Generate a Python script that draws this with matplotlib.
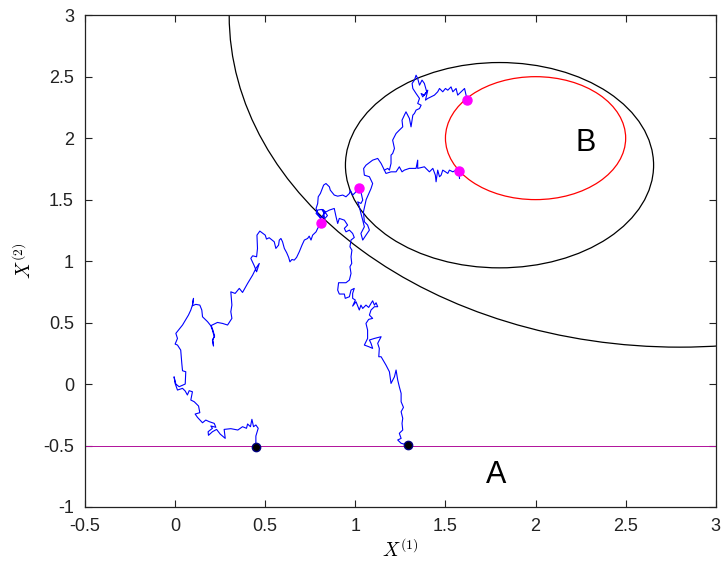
import numpy as np
import matplotlib
matplotlib.use('Agg')
import matplotlib.pyplot as plt
from matplotlib.patches import Ellipse

# ---- data ----
# level sets: (centre x, centre y, full width, full height)
big_level = (2.8, 3.0, 5.0, 5.4)
mid_level = (1.80, 1.78, 1.71, 1.67)
set_b = (2.0, 2.0, 1.0, 1.0)
level_a = -0.5

# walk from the left start up to the first level
walk1_x = [0.448, 0.448, 0.461, 0.448, 0.435, 0.426, 0.418, 0.402, 0.396, 0.374, 0.348, 0.309,
           0.272, 0.278, 0.25, 0.230, 0.207, 0.185, 0.183, 0.207, 0.198, 0.226, 0.217, 0.189,
           0.170, 0.152, 0.124, 0.111, 0.137, 0.130, 0.106, 0.087, 0.096, 0.078, 0.068, 0.056,
           0.041, 0.013, 0.000, -0.006, 0.004, 0.022, 0.056, 0.059, 0.041, 0.037, 0.031, 0.013,
           0.0, 0.013, 0.004, 0.041, 0.074, 0.087, 0.096, 0.102, 0.096, 0.115, 0.137, 0.148,
           0.152, 0.180, 0.198, 0.207, 0.217, 0.207, 0.213, 0.209, 0.219, 0.209, 0.2, 0.235,
           0.263, 0.291, 0.315, 0.309, 0.315, 0.309, 0.333, 0.356, 0.374, 0.402, 0.430, 0.448,
           0.467, 0.452, 0.439, 0.420, 0.430, 0.452, 0.457, 0.454, 0.470, 0.5, 0.507, 0.522,
           0.550, 0.559, 0.574, 0.578, 0.587, 0.596, 0.606, 0.619, 0.630, 0.637, 0.648, 0.661,
           0.674, 0.689, 0.704, 0.717, 0.735, 0.744, 0.754, 0.763, 0.782, 0.791, 0.81]
walk1_y = [-0.515, -0.423, -0.360, -0.333, -0.347, -0.287, -0.347, -0.325, -0.360, -0.347,
           -0.374, -0.363, -0.369, -0.442, -0.407, -0.369, -0.388, -0.417, -0.388, -0.36,
           -0.341, -0.352, -0.320, -0.306, -0.293, -0.315, -0.271, -0.244, -0.233, -0.179,
           -0.144, -0.130, -0.063, -0.054, -0.089, -0.057, -0.035, -0.049, 0.005, 0.059, 0.0,
           -0.022, 0.0, 0.10, 0.108, 0.168, 0.276, 0.317, 0.325, 0.371, 0.412, 0.480, 0.561,
           0.602, 0.642, 0.697, 0.637, 0.648, 0.642, 0.602, 0.547, 0.507, 0.474, 0.439, 0.385,
           0.358, 0.309, 0.36, 0.39, 0.44, 0.476, 0.501, 0.493, 0.480, 0.534, 0.588, 0.642,
           0.750, 0.737, 0.778, 0.745, 0.818, 0.886, 0.940, 0.981, 0.913, 0.962, 1.022, 1.043,
           1.035, 1.103, 1.211, 1.244, 1.211, 1.179, 1.190, 1.157, 1.103, 1.130, 1.171, 1.184,
           1.157, 1.103, 1.068, 1.030, 0.994, 1.013, 1.008, 1.030, 1.076, 1.130, 1.171, 1.184,
           1.203, 1.171, 1.211, 1.238, 1.266, 1.31]

# tangle after the first level up to the middle level
walk2_x = [0.81, 0.813, 0.8, 0.782, 0.791, 0.813, 0.824, 0.837, 0.845, 0.83, 0.818, 0.835,
           0.82, 0.828, 0.809, 0.791, 0.782, 0.791, 0.794, 0.806, 0.824, 0.837, 0.856, 0.861,
           0.883, 0.902, 0.930, 0.948, 0.967, 0.972, 0.985, 0.998, 1.018]
walk2_y = [1.31, 1.333, 1.360, 1.388, 1.415, 1.420, 1.401, 1.388, 1.37, 1.345, 1.37, 1.40,
           1.42, 1.360, 1.355, 1.388, 1.428, 1.468, 1.523, 1.550, 1.618, 1.631, 1.604, 1.577,
           1.537, 1.528, 1.537, 1.523, 1.550, 1.577, 1.537, 1.555, 1.596]

# from the middle level to the lower hit of B
walk3_x = [1.018, 1.031, 1.041, 1.031, 1.013, 1.022, 1.031, 1.041, 1.05, 1.031, 1.041, 1.059,
           1.078, 1.068, 1.05, 1.045, 1.06, 1.087, 1.096, 1.078, 1.05, 1.046, 1.059, 1.096,
           1.124, 1.143, 1.161, 1.170, 1.198, 1.226, 1.244, 1.259, 1.272, 1.3, 1.337, 1.346,
           1.346, 1.383, 1.411, 1.430, 1.444, 1.448, 1.457, 1.467, 1.476, 1.485, 1.5, 1.513,
           1.522, 1.541, 1.559, 1.574, 1.578]
walk3_y = [1.596, 1.563, 1.496, 1.469, 1.482, 1.442, 1.388, 1.333, 1.279, 1.225, 1.171, 1.211,
           1.252, 1.293, 1.320, 1.40, 1.50, 1.590, 1.631, 1.686, 1.699, 1.753, 1.780, 1.821,
           1.835, 1.794, 1.740, 1.713, 1.726, 1.726, 1.767, 1.726, 1.740, 1.754, 1.754, 1.821,
           1.754, 1.767, 1.726, 1.754, 1.699, 1.645, 1.740, 1.686, 1.699, 1.740, 1.726, 1.713,
           1.740, 1.726, 1.740, 1.734, 1.672]

# branch going up to the upper hit of B
walk4_x = [1.161, 1.180, 1.189, 1.198, 1.198, 1.207, 1.217, 1.207, 1.226, 1.244, 1.263, 1.259,
           1.272, 1.281, 1.3, 1.309, 1.319, 1.328, 1.337, 1.356, 1.365, 1.346, 1.356, 1.337,
           1.319, 1.315, 1.328, 1.337, 1.346, 1.356, 1.370, 1.383, 1.396, 1.374, 1.365, 1.383,
           1.402, 1.389, 1.402, 1.420, 1.439, 1.457, 1.467, 1.485, 1.5, 1.513, 1.531, 1.541,
           1.559, 1.568, 1.587, 1.606, 1.62]
walk4_y = [1.740, 1.754, 1.740, 1.794, 1.862, 1.875, 1.916, 1.984, 2.038, 2.065, 2.092, 2.146,
           2.187, 2.214, 2.160, 2.092, 2.187, 2.201, 2.228, 2.241, 2.268, 2.282, 2.323, 2.363,
           2.404, 2.445, 2.472, 2.512, 2.485, 2.431, 2.472, 2.445, 2.377, 2.336, 2.363, 2.350,
           2.390, 2.309, 2.323, 2.336, 2.350, 2.377, 2.404, 2.377, 2.404, 2.390, 2.417, 2.377,
           2.404, 2.350, 2.377, 2.404, 2.314]

# walk from the right start up into the tangle
walk5_x = [1.291, 1.254, 1.235, 1.254, 1.244, 1.263, 1.259, 1.263, 1.254, 1.267, 1.254, 1.254,
           1.244, 1.235, 1.226, 1.217, 1.198, 1.189, 1.170, 1.143, 1.130, 1.133, 1.124, 1.143,
           1.106, 1.078, 1.087, 1.096, 1.074, 1.05, 1.059, 1.068, 1.068, 1.059, 1.074, 1.096,
           1.078, 1.087, 1.106, 1.124, 1.115, 1.106, 1.096, 1.087, 1.074, 1.059, 1.041, 1.031,
           1.022, 1.004, 0.985, 1.0, 0.985, 0.985, 0.994, 0.976, 0.967, 0.944, 0.939, 0.911,
           0.902, 0.907, 0.948, 0.967, 0.976, 0.970, 0.980, 0.976, 0.981, 0.970, 0.976, 0.994,
           0.985, 0.967, 0.948, 0.939, 0.957, 0.939, 0.911, 0.902, 0.893, 0.883, 0.856, 0.837,
           0.824]
walk5_y = [-0.496, -0.482, -0.455, -0.442, -0.401, -0.374, -0.320, -0.279, -0.225, -0.190,
           -0.144, -0.076, -0.022, 0.033, 0.114, 0.059, 0.005, 0.1, 0.154, 0.222, 0.222, 0.290,
           0.331, 0.385, 0.371, 0.358, 0.331, 0.290, 0.304, 0.317, 0.344, 0.371, 0.439, 0.493,
           0.526, 0.534, 0.561, 0.602, 0.629, 0.629, 0.661, 0.642, 0.677, 0.656, 0.623, 0.642,
           0.615, 0.642, 0.602, 0.669, 0.634, 0.683, 0.697, 0.737, 0.778, 0.764, 0.710, 0.697,
           0.732, 0.732, 0.764, 0.824, 0.824, 0.846, 0.900, 0.954, 0.981, 1.035, 1.089, 1.116,
           1.171, 1.192, 1.225, 1.252, 1.238, 1.266, 1.293, 1.333, 1.347, 1.306, 1.360, 1.428,
           1.415, 1.40, 1.401]

start_x = [0.45, 1.29]
start_y = [-0.515, -0.496]
hit_x = [0.81, 1.018, 1.574, 1.62]
hit_y = [1.31, 1.596, 1.734, 2.314]

x_ticks = [-0.5, 0, 0.5, 1, 1.5, 2, 2.5, 3]
y_ticks = [-1, -0.5, 0, 0.5, 1, 1.5, 2, 2.5, 3]

plt.rcParams['font.family'] = ['Liberation Sans', 'DejaVu Sans']
plt.rcParams['mathtext.fontset'] = 'cm'

fig = plt.figure(figsize=(7.23, 5.63), dpi=100)
ax = fig.add_axes([0.1176, 0.0995, 0.8724, 0.8735])

for (cx, cy, w, h), col in [(big_level, 'black'), (mid_level, 'black'), (set_b, 'red')]:
    ax.add_patch(Ellipse((cx, cy), w, h, fill=False, edgecolor=col, linewidth=0.9))
ax.axhline(level_a, color='#b0109a', linewidth=0.7)

for xs, ys in [(walk1_x, walk1_y), (walk2_x, walk2_y), (walk3_x, walk3_y),
               (walk4_x, walk4_y), (walk5_x, walk5_y)]:
    ax.plot(xs, ys, color='#0000ff', linewidth=0.8)

ax.plot(start_x, start_y, 'o', color='black', markeredgecolor='#000080',
        markersize=6, zorder=5)
ax.plot(hit_x, hit_y, 'o', color='#ff00ff', markersize=6.5, zorder=5)

ax.text(1.78, -0.74, 'A', fontsize=22, ha='center', va='center')
ax.text(2.28, 1.96, 'B', fontsize=22, ha='center', va='center')

ax.set_xlim(-0.5, 3)
ax.set_ylim(-1, 3)
ax.set_xticks(x_ticks)
ax.set_yticks(y_ticks)
ax.set_xticklabels([f'{t:g}' for t in x_ticks])
ax.set_yticklabels([f'{t:g}' for t in y_ticks])
ax.tick_params(direction='in', length=5, width=0.8, labelsize=13, colors='#222222',
               top=True, right=True, pad=8)
for s in ax.spines.values():
    s.set_linewidth(0.9)
    s.set_color('#222222')

ax.set_xlabel(r'$X^{(1)}$', fontsize=14, labelpad=2)
ax.set_ylabel(r'$X^{(2)}$', fontsize=14, labelpad=6)

fig.savefig('out.png', dpi=100)
